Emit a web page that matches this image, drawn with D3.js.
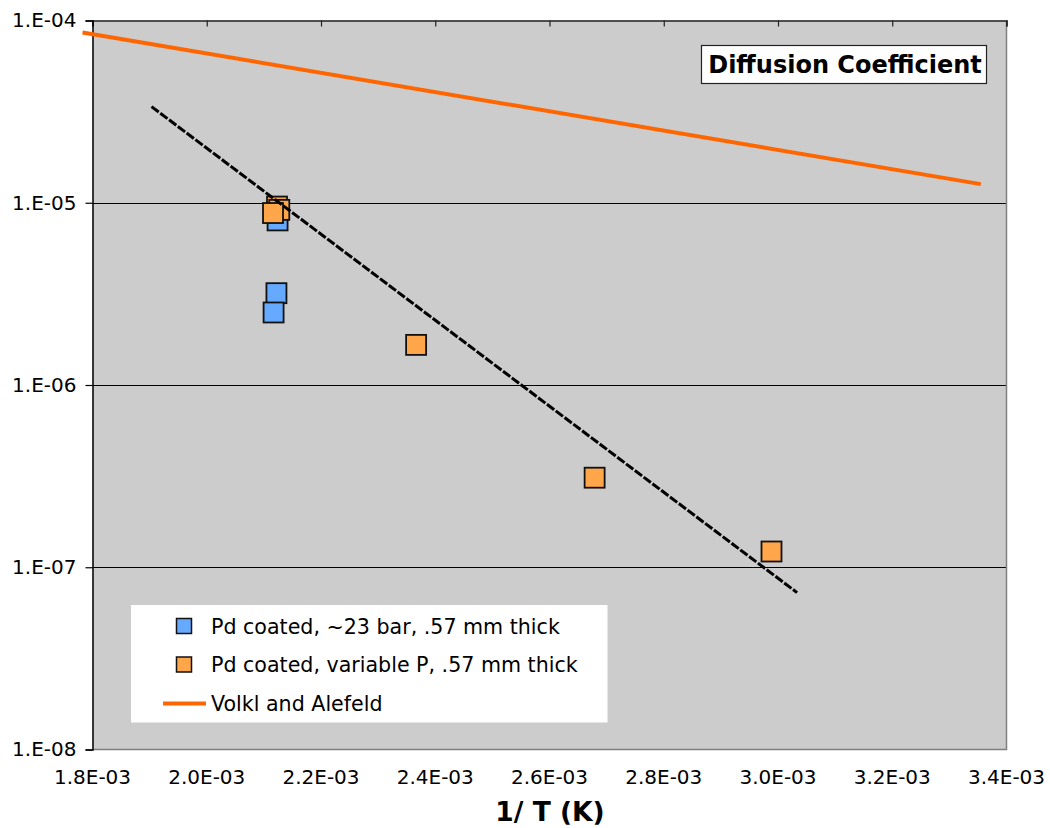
<!DOCTYPE html>
<html>
<head>
<meta charset="utf-8">
<script src="https://cdn.jsdelivr.net/npm/d3@7"></script>
<style>
  html, body { margin: 0; padding: 0; background: #fff; }
  svg { display: block; font-family: "DejaVu Sans", Verdana, sans-serif; }
</style>
</head>
<body>
<svg id="chart" width="1050" height="828"></svg>
<script>
// ---- data ----
const xTicks = [1.8e-3, 2.0e-3, 2.2e-3, 2.4e-3, 2.6e-3, 2.8e-3, 3.0e-3, 3.2e-3, 3.4e-3];
const xTickLabels = ["1.8E-03","2.0E-03","2.2E-03","2.4E-03","2.6E-03","2.8E-03","3.0E-03","3.2E-03","3.4E-03"];
const yTicks = [1e-8, 1e-7, 1e-6, 1e-5, 1e-4];
const yTickLabels = ["1.E-08","1.E-07","1.E-06","1.E-05","1.E-04"];

const blueX = [2.122e-3, 2.117e-3, 2.124e-3];
const blueY = [3.19e-6, 2.50e-6, 8.0e-6];

const orangeX = [2.123e-3, 2.127e-3, 2.116e-3, 2.3665e-3, 2.679e-3, 2.9886e-3];
const orangeY = [9.53e-6, 9.14e-6, 8.78e-6, 1.66e-6, 3.10e-7, 1.22e-7];

const volklX = [1.7825e-3, 3.355e-3];
const volklY = [8.59e-5, 1.265e-5];

const fitX = [1.9033e-3, 3.0334e-3];
const fitY = [3.37e-5, 7.26e-8];

const seriesNames = ["Pd coated, ~23 bar, .57 mm thick", "Pd coated, variable P, .57 mm thick", "Volkl and Alefeld"];
const chartTitle = "Diffusion Coefficient";
const xTitle = "1/ T (K)";

// ---- layout ----
const svg = d3.select("#chart");
const L = 92.5, T = 20.5, W = 914, H = 729;
const x = d3.scaleLinear().domain([1.8e-3, 3.4e-3]).range([L, L + W]);
const y = d3.scaleLog().domain([1e-8, 1e-4]).range([T + H, T]);

// plot background
svg.append("rect").attr("x", L).attr("y", T).attr("width", W).attr("height", H)
  .attr("fill", "#cccccc");

// gridlines
svg.append("g").selectAll("line").data(yTicks.slice(1, 4)).join("line")
  .attr("x1", L).attr("x2", L + W)
  .attr("y1", d => Math.round(y(d)) + 0.5).attr("y2", d => Math.round(y(d)) + 0.5)
  .attr("stroke", "#000").attr("stroke-width", 1);

// right and bottom border (grey)
svg.append("path")
  .attr("d", `M${L + W},${T} V${T + H} H${L}`)
  .attr("fill", "none").attr("stroke", "#808080").attr("stroke-width", 1.5);

// top x axis (ticks inward)
const xAxis = d3.axisTop(x).tickValues(xTicks).tickSize(-6).tickFormat("");
const gx = svg.append("g").attr("transform", `translate(0,${T})`).call(xAxis);
gx.select(".domain").attr("stroke", "#222").attr("stroke-width", 1.5);
gx.selectAll(".tick line").attr("stroke", "#222").attr("stroke-width", 1.2);

// x tick labels at bottom
svg.append("g").selectAll("text").data(xTicks).join("text")
  .attr("x", d => x(d)).attr("y", T + H + 34)
  .attr("text-anchor", "middle").attr("font-size", 20).attr("fill", "#000")
  .text((d, i) => xTickLabels[i]);

// left y axis
const yAxis = d3.axisLeft(y).tickValues(yTicks).tickSize(7).tickPadding(9)
  .tickFormat((d, i) => yTickLabels[i]);
const gy = svg.append("g").attr("transform", `translate(${L},0)`).call(yAxis);
gy.select(".domain").attr("stroke", "#000").attr("stroke-width", 1.5);
gy.selectAll(".tick line").attr("stroke", "#000").attr("stroke-width", 1.2);
gy.selectAll(".tick text").attr("font-size", 20).attr("fill", "#000")
  .attr("font-family", "DejaVu Sans, Verdana, sans-serif");

// markers
const S = 20;
function squares(xs, ys, fill) {
  svg.append("g").selectAll("rect").data(xs.map((d, i) => [d, ys[i]])).join("rect")
    .attr("x", d => x(d[0]) - S / 2).attr("y", d => y(d[1]) - S / 2)
    .attr("width", S).attr("height", S)
    .attr("fill", fill).attr("stroke", "#111").attr("stroke-width", 1.8);
}
squares(blueX, blueY, "#66aaff");
squares(orangeX, orangeY, "#ffa64a");

const line = d3.line().x(d => x(d[0])).y(d => y(d[1]));

// Volkl and Alefeld line
svg.append("path").datum(volklX.map((d, i) => [d, volklY[i]]))
  .attr("d", line).attr("fill", "none").attr("stroke", "#ff6600").attr("stroke-width", 4);

// trend line (dashed)
svg.append("path").datum(fitX.map((d, i) => [d, fitY[i]]))
  .attr("d", line).attr("fill", "none").attr("stroke", "#000")
  .attr("stroke-width", 3).attr("stroke-dasharray", "9,2");

// title box
const tb = svg.append("g");
tb.append("rect").attr("x", 701.5).attr("y", 45.5).attr("width", 285).attr("height", 38)
  .attr("fill", "#fff").attr("stroke", "#222").attr("stroke-width", 1.2);
tb.append("text").attr("x", 845).attr("y", 73).attr("text-anchor", "middle")
  .attr("font-size", 24).attr("font-weight", "bold").attr("fill", "#000").text(chartTitle);

// legend
const lg = svg.append("g");
lg.append("rect").attr("x", 131).attr("y", 605).attr("width", 476.5).attr("height", 117.5)
  .attr("fill", "#fff");
const rowsY = [626, 664.5, 703.5];
lg.append("rect").attr("x", 176.5).attr("y", rowsY[0] - 7.5).attr("width", 15).attr("height", 15)
  .attr("fill", "#66aaff").attr("stroke", "#111").attr("stroke-width", 1.5);
lg.append("rect").attr("x", 176.5).attr("y", rowsY[1] - 7.5).attr("width", 15).attr("height", 15)
  .attr("fill", "#ffa64a").attr("stroke", "#111").attr("stroke-width", 1.5);
lg.append("line").attr("x1", 163).attr("x2", 206).attr("y1", rowsY[2]).attr("y2", rowsY[2])
  .attr("stroke", "#ff6600").attr("stroke-width", 4);
lg.selectAll("text").data(seriesNames).join("text")
  .attr("x", 211).attr("y", (d, i) => rowsY[i] + 7.5)
  .attr("font-size", 20.6).attr("fill", "#000").text(d => d);

// x axis title
svg.append("text").attr("x", 550).attr("y", 821).attr("text-anchor", "middle")
  .attr("font-size", 26.5).attr("font-weight", "bold").attr("fill", "#000").text(xTitle);
</script>
</body>
</html>
